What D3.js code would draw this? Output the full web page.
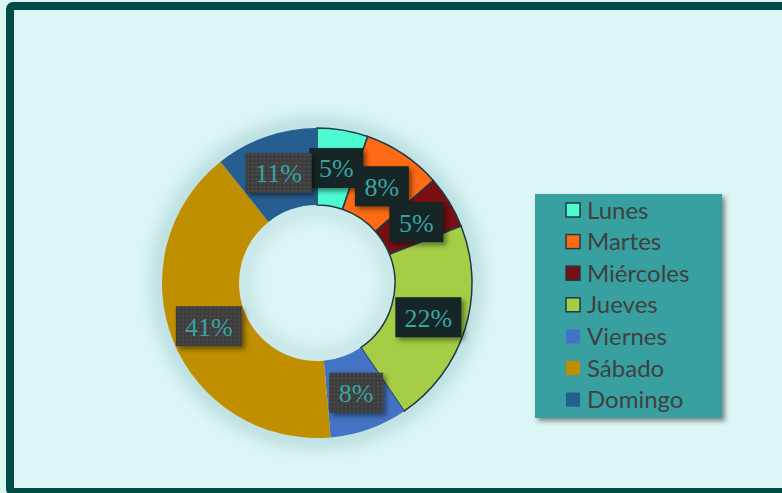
<!DOCTYPE html>
<html>
<head>
<meta charset="utf-8">
<script src="https://cdn.jsdelivr.net/npm/d3@7"></script>
<style>
  body { margin: 0; background: #dcf5f5; overflow: hidden; }
</style>
</head>
<body>
<div id="chart"></div>
<script>
const days = ['Lunes', 'Martes', 'Miércoles', 'Jueves', 'Viernes', 'Sábado', 'Domingo']
const values = [5.3, 8.2, 5.5, 21.5, 8.1, 40.7, 10.7]
const labels = ['5%', '8%', '5%', '22%', '8%', '41%', '11%']
const colors = ['#4dfad2', '#ff6a14', '#7a0f12', '#a6cd46', '#4472c4', '#bf8f00', '#255e91']

let width = 782
let height = 493
let cx = 317
let cy = 283
let outerR = 155
let innerR = 78

let svg = d3.select('#chart')
    .append('svg')
    .attr('width', width)
    .attr('height', height)

let defs = svg.append('defs')

// soft glow round the ring
let glow = defs.append('filter').attr('id', 'glow')
    .attr('x', '-30%').attr('y', '-30%').attr('width', '160%').attr('height', '160%')
glow.append('feGaussianBlur').attr('stdDeviation', 9)

let shadow = defs.append('filter').attr('id', 'shadow')
    .attr('x', '-30%').attr('y', '-30%').attr('width', '170%').attr('height', '170%')
shadow.append('feDropShadow')
    .attr('dx', 3).attr('dy', 3).attr('stdDeviation', 2.5)
    .attr('flood-color', '#000').attr('flood-opacity', 0.45)

let dots = defs.append('pattern').attr('id', 'dots')
    .attr('width', 4).attr('height', 4).attr('patternUnits', 'userSpaceOnUse')
dots.append('rect').attr('width', 4).attr('height', 4).attr('fill', '#3d3d3d')
dots.append('rect').attr('x', 1).attr('y', 1).attr('width', 1.5).attr('height', 1.5).attr('fill', '#555')

// frame
svg.append('rect')
    .attr('x', 10).attr('y', 6)
    .attr('width', 820).attr('height', 486)
    .attr('rx', 3)
    .attr('fill', '#dcf5f5')
    .attr('stroke', '#004a48')
    .attr('stroke-width', 8)

let pie = d3.pie().sort(null).value(d => d)
let arcs = pie(values)

let arc = d3.arc().innerRadius(innerR).outerRadius(outerR)
let labelArc = d3.arc().innerRadius((innerR + outerR) / 2).outerRadius((innerR + outerR) / 2)

let g = svg.append('g').attr('transform', `translate(${cx},${cy})`)

// glow rings
g.append('circle').attr('r', outerR + 2)
    .attr('fill', 'none').attr('stroke', '#9cc9cc').attr('stroke-width', 10)
    .attr('filter', 'url(#glow)')
g.append('circle').attr('r', innerR - 4)
    .attr('fill', 'none').attr('stroke', '#a9d0d2').attr('stroke-width', 8)
    .attr('filter', 'url(#glow)')

g.selectAll('path.slice')
    .data(arcs)
    .enter()
    .append('path')
    .attr('class', 'slice')
    .attr('d', arc)
    .attr('fill', (d, i) => colors[i])
    .attr('stroke', (d, i) => i < 4 ? '#1f3a45' : 'none')
    .attr('stroke-width', 1.5)

// labels
let lab = g.selectAll('g.lab')
    .data(arcs)
    .enter()
    .append('g')
    .attr('class', 'lab')
    .attr('transform', d => `translate(${labelArc.centroid(d)})`)

lab.append('rect')
    .attr('x', (d, i) => labels[i].length > 2 ? -33 : -27)
    .attr('y', -20)
    .attr('width', (d, i) => labels[i].length > 2 ? 66 : 54)
    .attr('height', 40)
    .attr('fill', (d, i) => i < 4 ? '#132626' : 'url(#dots)')
    .attr('filter', 'url(#shadow)')

lab.append('text')
    .attr('text-anchor', 'middle')
    .attr('dy', '0.36em')
    .attr('font-family', '"Liberation Serif", "DejaVu Serif", serif')
    .attr('font-size', 26)
    .attr('fill', '#3aa3a1')
    .text((d, i) => labels[i])

// legend
let legend = svg.append('g').attr('transform', 'translate(535,194)')
legend.append('rect')
    .attr('width', 187).attr('height', 224)
    .attr('fill', '#37a0a0')
    .attr('filter', 'url(#shadow)')

let item = legend.selectAll('g.item')
    .data(days)
    .enter()
    .append('g')
    .attr('class', 'item')
    .attr('transform', (d, i) => `translate(31,${16 + i * 31.6})`)

item.append('rect')
    .attr('x', 0).attr('y', -7)
    .attr('width', 14).attr('height', 14)
    .attr('fill', (d, i) => colors[i])
    .attr('stroke', (d, i) => i < 4 ? '#1f3a45' : 'none')
    .attr('stroke-width', 1.5)

item.append('text')
    .attr('x', 21)
    .attr('dy', '0.36em')
    .attr('font-family', 'Lato, sans-serif')
    .attr('font-size', 24)
    .attr('fill', '#404040')
    .text(d => d)
</script>
</body>
</html>
